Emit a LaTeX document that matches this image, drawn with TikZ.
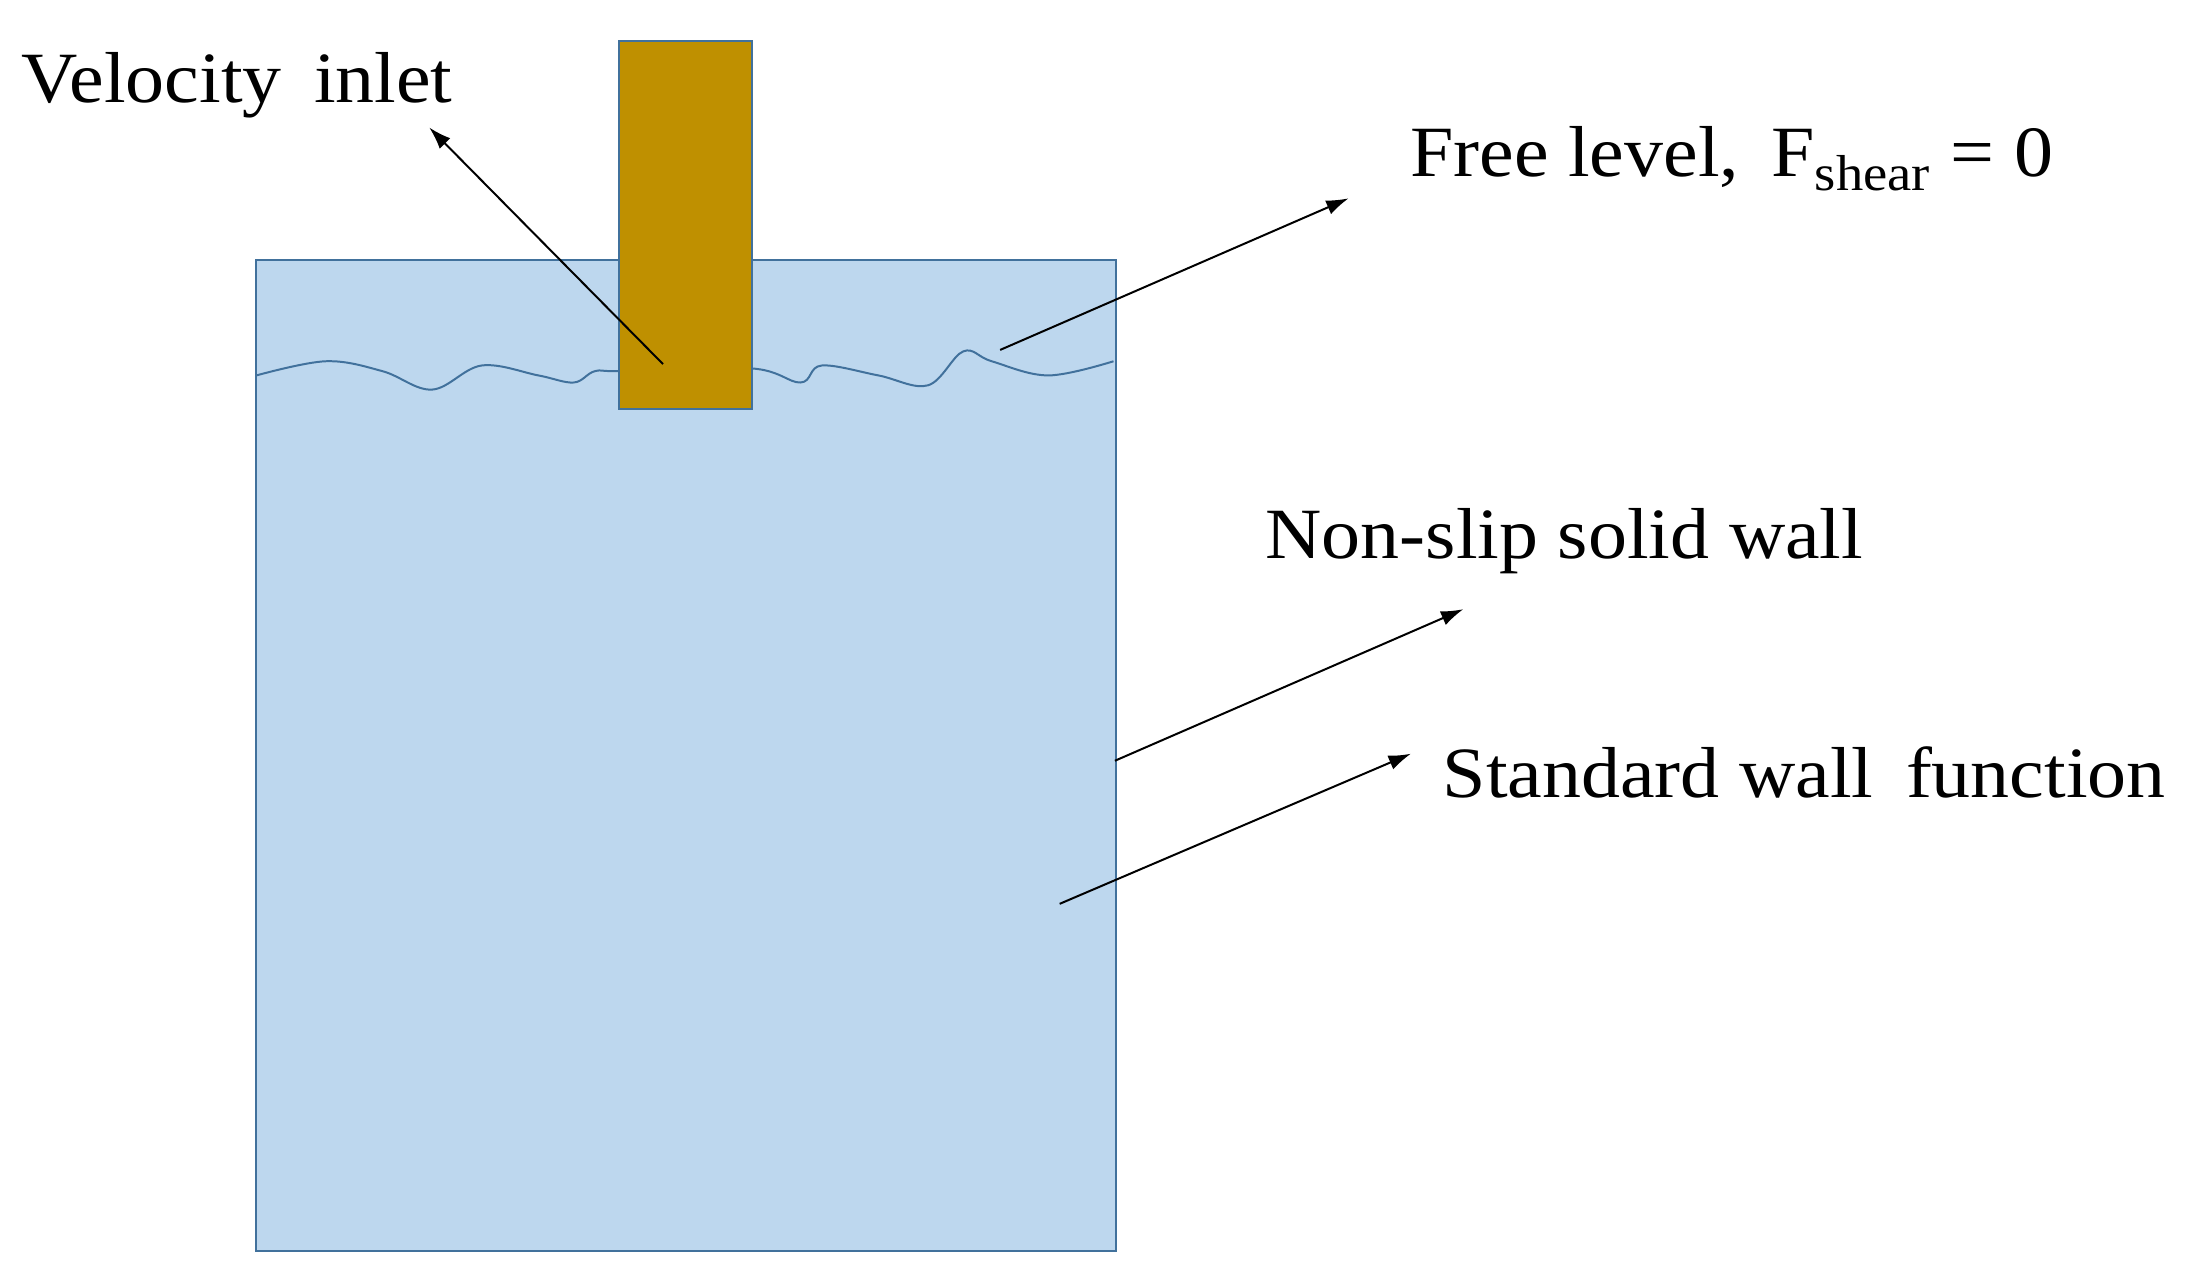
\documentclass[tikz,border=0pt]{standalone}
\usepackage{fontspec}
\usetikzlibrary{arrows.meta}
\setmainfont{Liberation Serif}
\begin{document}
\begin{tikzpicture}[x=0.02cm,y=-0.02cm,
  lab/.style={font=\fontsize{29}{32}\selectfont,anchor=west,inner sep=0},
  arr/.style={-{Latex[length=9pt,width=6pt]},line width=0.8pt}]
\useasboundingbox (0,0) rectangle (1560,906);
\definecolor{edge}{RGB}{65,113,156}
\node[draw=edge,fill={rgb,255:red,189;green,215;blue,238},minimum width=607*0.02cm,minimum height=699*0.02cm,anchor=north west,inner sep=0,line width=0.8pt] (tank) at (180,183) {};
\draw[draw=edge,line width=0.8pt] plot[smooth,tension=0.6] coordinates {(181,265) (230,255) (270,262) (305,275) (340,258) (380,265) (405,270) (420,262) (440,262) (530,260) (565,270) (580,258) (620,265) (655,272) (680,248) (700,255) (740,265) (786,255)};
\node[draw=edge,fill={rgb,255:red,191;green,144;blue,0},minimum width=94*0.02cm,minimum height=260*0.02cm,anchor=north west,inner sep=0,line width=0.8pt] (pipe) at (436,28) {};
\node[lab,xscale=1.08] (vi) at (15,60) {Velocity\, inlet};
\node[lab,xscale=1.08] (fl) at (995,112) {Free level,\, F\textsubscript{shear} = 0};
\node[lab,xscale=1.08] (ns) at (893,382) {Non-slip solid wall};
\node[lab,xscale=1.08] (sw) at (1018,545) {Standard wall\, function};
\coordinate (a1) at (468,257); \coordinate (b1) at (303,90);
\coordinate (a2) at (706,247); \coordinate (b2) at (952,140);
\coordinate (a3) at (787,537); \coordinate (b3) at (1033,430);
\coordinate (a4) at (748,638); \coordinate (b4) at (996,532);
\draw[arr] (a1) -- (b1);
\draw[arr] (a2) -- (b2);
\draw[arr] (a3) -- (b3);
\draw[arr] (a4) -- (b4);
\end{tikzpicture}
\end{document}
